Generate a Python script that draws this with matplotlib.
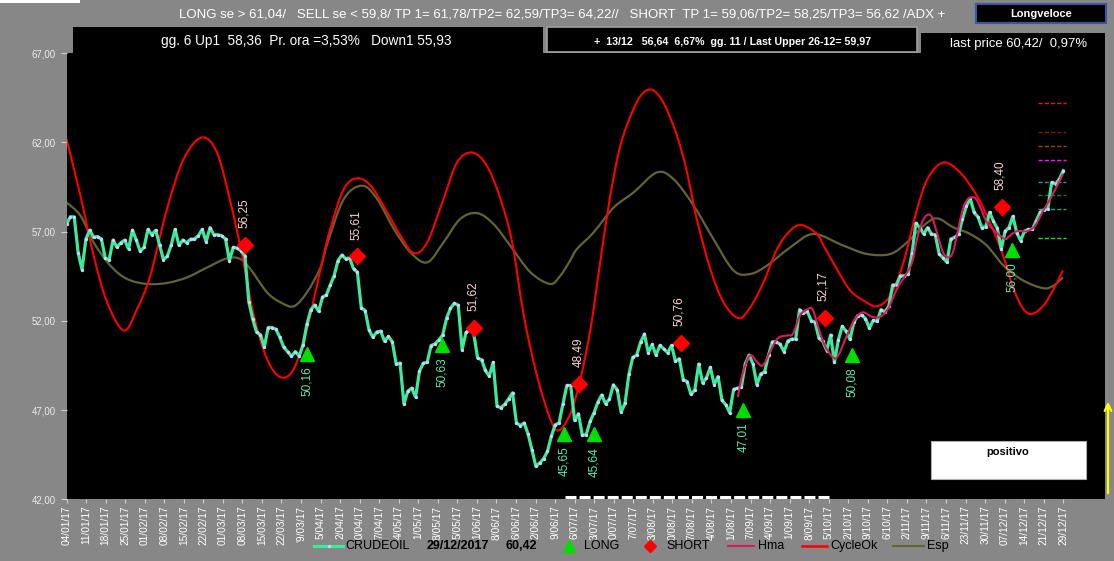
import numpy as np
import matplotlib
matplotlib.use("Agg")
import matplotlib.pyplot as plt
from matplotlib.patches import Rectangle, PathPatch
from matplotlib.lines import Line2D
from matplotlib.path import Path

plt.rcParams["font.family"] = ["Liberation Sans", "DejaVu Sans"]

W, H = 1114, 561
BG = "#878787"

# daily close, CRUDEOIL 2017
close = [
    57.43, 57.84, 57.83, 55.83, 54.87, 56.59, 57.09, 56.68, 56.73, 56.59,
    55.51, 55.43, 56.53, 56.13, 56.38, 56.53, 56.03, 57.09, 56.53, 55.90,
    56.13, 57.13, 56.83, 57.08, 56.25, 55.43, 55.63, 56.25, 57.13, 56.23,
    56.53, 56.38, 56.58, 56.59, 56.78, 57.13, 56.43, 57.23, 56.83, 56.83,
    56.78, 56.59, 55.38, 56.13, 56.08, 55.93, 55.66, 53.08, 52.11, 51.36,
    51.23, 50.53, 51.63, 51.63, 51.53, 51.08, 50.53, 50.28, 50.02, 50.28,
    50.03, 50.66, 51.83, 52.63, 52.89, 52.53, 53.33,
    53.45, 54.01, 54.53, 55.38, 55.69, 55.48, 55.53, 54.93, 54.73, 52.73,
    52.58, 51.49, 51.08, 51.38, 51.43, 50.86, 51.13, 50.83, 49.59, 49.63,
    47.35, 48.06, 48.23, 47.73, 49.18, 49.63, 49.68, 50.62, 50.71, 50.93,
    51.21, 52.15, 52.71, 52.99, 52.88, 50.39, 51.36, 51.48, 51.28, 49.91,
    49.83, 49.22, 48.90, 49.68, 47.22, 47.13, 47.33, 47.63, 47.97, 46.29,
    46.13, 46.28, 45.67, 44.78, 43.86, 44.03, 44.28, 44.68, 45.53, 46.18,
    46.28, 47.35, 48.38, 48.38,
    46.42, 46.79, 45.58, 45.63, 46.37, 46.85, 47.44, 47.85, 47.35, 47.63,
    48.42, 48.13, 46.88, 47.38, 49.00, 49.96, 50.08, 50.80, 51.27, 50.21,
    50.68, 50.08, 50.63, 50.43, 50.21, 50.63, 49.73, 49.88, 48.71, 48.60,
    47.88, 48.13, 49.59, 48.53, 48.81, 49.40, 48.43, 48.88, 47.54, 47.30,
    46.85, 48.16, 48.23, 48.28, 49.59, 50.08, 49.59, 48.42, 49.03, 49.15,
    50.08, 50.83, 50.83, 50.68, 50.28, 50.88, 50.98, 50.98, 52.63, 52.43,
    52.53, 52.02, 51.93, 51.03,
    50.85, 50.34, 51.21, 49.68, 50.93, 51.70, 51.43, 50.96, 51.92, 52.30,
    52.33, 52.13, 51.59, 52.03, 51.98, 52.63, 52.50, 52.82, 54.01, 54.03,
    54.53, 54.53, 54.63, 55.80, 57.48, 57.23, 56.87, 57.23, 56.87, 56.83,
    55.75, 55.53, 55.28, 56.59, 56.68, 56.87, 57.71, 58.43, 58.87, 58.08,
    57.83, 57.23, 57.28, 58.08, 57.58, 57.18, 56.03, 57.03, 57.23, 57.86,
    56.93, 56.50, 57.03, 57.13, 57.13, 57.61, 58.08, 58.23, 58.28, 59.76,
    59.67, 59.95, 60.42,
]

hma_idx = [173.1, 174.3, 176.2, 177.9, 179.5, 181.4, 183.4, 185.7, 187.3, 189.1,
           191.2, 192.4, 193.7, 195.5, 197.6, 198.9, 201.2, 203.3, 205.3, 207.7,
           209.7, 211.8, 214.1, 216.2, 218.0, 219.3, 220.6, 221.9, 223.1, 224.4,
           226.0, 227.3, 228.5, 229.8, 231.1, 232.4, 234.2, 235.5, 237.3, 239.9,
           242.0, 243.2, 245.1, 247.6, 249.7, 251.8, 253.6, 255.6, 256.9]
hma = [47.73, 49.03, 50.06, 49.73, 49.50, 50.28, 51.03, 51.18, 51.28, 52.30,
       52.67, 52.63, 51.73, 50.62, 49.96, 50.03, 51.18, 52.11, 52.48, 52.23,
       52.23, 52.67, 53.79, 54.53, 55.28, 56.59, 57.53, 57.93, 57.83, 56.96,
       55.83, 55.56, 55.83, 57.03, 58.27, 58.83, 58.90, 58.43, 57.53, 56.93,
       56.59, 56.78, 57.03, 57.03, 57.33, 58.17, 58.83, 59.67, 60.23]

cycle_idx = [0.0, 3.6, 7.0, 10.5, 14.8, 18.2, 21.6, 25.9, 30.2, 34.9,
             38.8, 42.3, 45.3, 48.3, 51.7, 55.2, 58.6, 62.0, 65.5, 68.0,
             71.5, 74.9, 78.4, 82.7, 86.1, 89.5, 93.0, 97.2, 100.7, 104.6,
             108.4, 111.9, 114.9, 117.9, 121.3, 124.7, 126.9, 129.9, 132.5, 135.1,
             137.6, 140.2, 142.8, 145.8, 148.4, 151.0, 153.9, 157.4, 160.0, 162.5,
             166.0, 169.4, 173.3, 176.3, 179.7, 183.2, 186.6, 189.6, 193.5, 195.2,
             198.6, 202.1, 205.5, 208.9, 212.4, 215.8, 219.3, 222.2, 226.1, 230.4,
             234.7, 238.1, 241.2, 244.2, 246.7, 248.9, 251.9, 254.5, 256.9]
cycle = [62.19, 59.02, 55.66, 53.03, 51.46, 52.67, 54.53, 58.27, 61.07, 62.28,
         61.43, 58.63, 55.66, 52.30, 49.87, 48.84, 49.31, 51.55, 54.91, 57.15,
         59.39, 59.99, 59.58, 58.08, 56.78, 55.80, 56.40, 58.83, 60.88, 61.44,
         60.69, 58.83, 56.40, 52.30, 48.93, 46.51, 45.86, 46.79, 48.75, 51.55,
         55.28, 59.02, 61.82, 63.68, 64.71, 64.95, 64.24, 62.38, 60.32, 57.71,
         54.91, 53.04, 52.15, 52.76, 54.16, 56.03, 57.06, 57.37, 56.87, 56.22,
         54.91, 53.70, 53.14, 52.82, 53.42, 55.28, 58.27, 60.04, 60.88, 60.32,
         59.02, 57.52, 55.84, 53.79, 52.67, 52.39, 52.86, 53.79, 54.82]

esp_idx = [0.0, 3.6, 7.0, 11.3, 15.6, 20.8, 26.0, 31.1, 36.3, 41.4,
           44.8, 47.4, 51.7, 55.2, 58.6, 62.0, 65.5, 67.2, 71.5, 76.2,
           80.1, 84.4, 88.7, 93.0, 97.2, 101.5, 105.9, 110.1, 114.4, 119.6,
           124.7, 127.3, 129.9, 131.6, 135.9, 141.1, 146.2, 152.2, 156.5, 161.7,
           166.8, 172.0, 176.3, 180.6, 186.6, 192.6, 200.3, 206.4, 212.4, 216.7,
           221.0, 224.4, 228.7, 233.0, 237.3, 241.6, 246.7, 251.9, 254.5, 256.9]
esp = [58.64, 57.90, 56.40, 55.10, 54.35, 54.07, 54.13, 54.44, 55.00, 55.51,
       55.47, 54.91, 53.60, 53.04, 52.82, 53.60, 55.00, 56.30, 58.83, 59.58,
       58.83, 57.15, 55.84, 55.28, 56.40, 57.71, 58.04, 57.43, 56.22, 54.73,
       54.07, 54.53, 55.40, 56.03, 56.96, 58.36, 59.20, 60.32, 59.95, 58.46,
       56.59, 54.82, 54.63, 55.10, 56.12, 56.87, 56.22, 55.75, 55.75, 56.40,
       57.34, 57.75, 57.24, 56.87, 56.22, 55.10, 54.26, 53.83, 53.98, 54.44]

long_idx = [61.9, 96.9, 128.2, 136.0, 174.5, 202.6, 243.8]
long_val = [50.16, 50.63, 45.65, 45.64, 47.01, 50.08, 56.00]
short_idx = [46.0, 75.0, 105.1, 132.2, 158.4, 195.5, 241.1]
short_val = [56.25, 55.61, 51.62, 48.49, 50.76, 52.17, 58.40]

levels = [64.22, 62.59, 61.78, 61.04, 59.80, 59.06, 58.25, 56.62]
level_colors = ["#ff1010", "#8b1010", "#b83a10", "#ff10ff",
                "#1a9aaa", "#0a8a0a", "#18a888", "#22e022"]
levels_span = [250.5, 257.7]

cycle_bar = [128.6, 197.1]
cycle_bar_level = 42.13

date_labels = [
    "04/01/17", "11/01/17", "18/01/17", "25/01/17", "01/02/17", "08/02/17",
    "15/02/17", "22/02/17", "01/03/17", "08/03/17", "15/03/17", "22/03/17",
    "'9/03/17", "5/04/17", "2/04/17", "0/04/17", "7/04/17", "4/05/17",
    "1/05/17", "8/05/17", "5/05/17", "1/06/17", "8/06/17", "6/06/17",
    "2/06/17", "9/06/17", "6/07/17", "3/07/17", "0/07/17", "7/07/17",
    "3/08/17", "0/08/17", "7/08/17", "4/08/17", "1/08/17", "7/09/17",
    "4/09/17", "1/09/17", "8/09/17", "5/10/17", "2/10/17", "9/10/17",
    "6/10/17", "2/11/17", "9/11/17", "6/11/17", "23/11/17", "30/11/17",
    "07/12/17", "14/12/17", "21/12/17", "29/12/17",
]
yticks = [42, 47, 52, 57, 62, 67]

C_CLOSE = "#3ee89c"
C_HMA = "#d81b60"
C_CYCLE = "#ff0000"
C_ESP = "#646432"


def px_rect(x0, y0, x1, y1):
    return [x0 / W, 1 - y1 / H, (x1 - x0) / W, (y1 - y0) / H]


def smooth_path(xs, ys):
    # catmull-rom through the read points, drawn as bezier segments
    p = np.column_stack([xs, ys]).astype(float)
    ext = np.vstack([p[0], p, p[-1]])
    verts, codes = [p[0]], [Path.MOVETO]
    for i in range(len(p) - 1):
        p0, p1, p2, p3 = ext[i], ext[i + 1], ext[i + 2], ext[i + 3]
        verts += [p1 + (p2 - p0) / 6, p2 - (p3 - p1) / 6, p2]
        codes += [Path.CURVE4] * 3
    return Path(verts, codes)


fig = plt.figure(figsize=(W / 100, H / 100), dpi=100, facecolor=BG)

ax = fig.add_axes(px_rect(66.5, 53.3, 1105, 499.3))
ax.set_facecolor("black")
n = len(close)
x = np.arange(n)
ax.set_xlim(0, (n - 1) + (1105 - 1063.3) / (996.6 / (n - 1)))
ax.set_ylim(42, 67)

ax.add_patch(PathPatch(smooth_path(esp_idx, esp), facecolor="none",
                       edgecolor=C_ESP, lw=1.6, zorder=2))
ax.add_patch(PathPatch(smooth_path(cycle_idx, cycle), facecolor="none",
                       edgecolor=C_CYCLE, lw=1.5, zorder=3))
ax.plot(x, close, color=C_CLOSE, lw=2.3, zorder=4,
        marker="o", markersize=2.4, markerfacecolor="#c8d4ff",
        markeredgewidth=0)
ax.add_patch(PathPatch(smooth_path(hma_idx, hma), facecolor="none",
                       edgecolor=C_HMA, lw=1.5, zorder=5))

ax.plot(long_idx, long_val, ls="none", marker="^", markersize=10,
        color="#00e000", zorder=6)
ax.plot(short_idx, short_val, ls="none", marker="D", markersize=8,
        color="#ff0000", zorder=6)
for i, v in zip(long_idx, long_val):
    ax.annotate(f"{v:.2f}".replace(".", ","), (i, v), xytext=(0, -9),
                textcoords="offset points", rotation=90, ha="center",
                va="top", color="#5cf0a8", fontsize=8.5, zorder=7)
for i, v in zip(short_idx, short_val):
    ax.annotate(f"{v:.2f}".replace(".", ","), (i, v), xytext=(-1, 12),
                textcoords="offset points", rotation=90, ha="center",
                va="bottom", color="#ffd4d4", fontsize=8.5, zorder=7)

for lv, c in zip(levels, level_colors):
    ax.hlines(lv, levels_span[0], levels_span[1], colors=c, lw=1,
              linestyles=(0, (3, 1.5)), zorder=3)
ax.hlines(cycle_bar_level, cycle_bar[0], cycle_bar[1], colors="white",
          lw=2.2, linestyles=(0, (3.6, 1.0)), zorder=3)

ax.set_yticks(yticks)
ax.set_yticklabels([f"{v:.2f}".replace(".", ",") for v in yticks],
                   color="#ececec", fontsize=6.9)
ax.set_xticks(np.linspace(0, n - 1, len(date_labels)))
ax.set_xticklabels(date_labels, rotation=90, color="white", fontsize=7.3,
                   va="top")
ax.tick_params(axis="y", length=4, color="#d0d0d0", pad=4)
ax.tick_params(axis="x", length=3, color="#d0d0d0", pad=1.5)
for s in ax.spines.values():
    s.set_visible(False)

# overlay in pixel coordinates for header, legend and notes
ov = fig.add_axes([0, 0, 1, 1], zorder=5)
ov.set_xlim(0, W)
ov.set_ylim(H, 0)
ov.axis("off")
ov.patch.set_alpha(0)

ov.add_patch(Rectangle((0, 0), 80, 3, color="white", lw=0))
ov.add_patch(Rectangle((73, 27.3), 470, 26, color="black", lw=0))
ov.add_patch(Rectangle((547, 27.3), 370, 24.4, facecolor="black",
                       edgecolor="#a0a0a0", lw=1.2))
ov.add_patch(Rectangle((921, 33), 184, 21, color="black", lw=0))
ov.add_patch(Rectangle((976, 4), 130, 19, facecolor="black",
                       edgecolor="#3656a8", lw=1.5))

renderer = fig.canvas.get_renderer()


def fit_text(t, width_px):
    bb = t.get_window_extent(renderer)
    t.set_fontsize(t.get_fontsize() * width_px / bb.width)


t = ov.text(562, 14.5, "LONG se > 61,04/   SELL se < 59,8/ TP 1= 61,78/TP2= 62,59/"
            "TP3= 64,22//   SHORT  TP 1= 59,06/TP2= 58,25/TP3= 56,62 /ADX +",
            color="white", fontsize=9, ha="center", va="center")
fit_text(t, 770)
t = ov.text(1041, 14, "Longveloce", color="white", fontsize=8,
            fontweight="bold", ha="center", va="center")
t = ov.text(306, 41, "gg. 6 Up1  58,36  Pr. ora =3,53%   Down1 55,93",
            color="white", fontsize=10, ha="center", va="center")
fit_text(t, 291)
t = ov.text(732.5, 41.5, "+  13/12   56,64  6,67%  gg. 11 / Last Upper 26-12= 59,97",
            color="white", fontsize=7, fontweight="bold", ha="center",
            va="center")
fit_text(t, 277)
t = ov.text(1019, 43.5, "last price 60,42/  0,97%", color="white",
            fontsize=10, ha="center", va="center")
fit_text(t, 138)

# positivo box and yellow arrow
ov.add_patch(Rectangle((931, 441), 155, 38, facecolor="white",
                       edgecolor="#b0b0b0", lw=0.8))
ov.text(1008, 452, "positivo", color="black", fontsize=8, fontweight="bold",
        ha="center", va="center")
ov.annotate("", xy=(1108, 399), xytext=(1108, 496),
            arrowprops=dict(arrowstyle="->", color="#ffff00", lw=1.6,
                            mutation_scale=12))

# legend
ly = 546
ov.add_line(Line2D([314, 343], [ly, ly], color=C_CLOSE, lw=2.3))
ov.plot([328.5], [ly], marker="o", markersize=2.4, color="#c8d4ff", mew=0)
ov.text(345, ly, "CRUDEOIL", fontsize=9, ha="left", va="center")
ov.text(427, ly, "29/12/2017", fontsize=9, fontweight="bold", ha="left",
        va="center")
ov.text(505, ly, "60,42", fontsize=9, fontweight="bold", ha="left",
        va="center")
ov.plot([568.5], [ly], marker="^", markersize=8, color="#00e000")
ov.text(584, ly, "LONG", fontsize=9, ha="left", va="center")
ov.plot([650], [ly], marker="D", markersize=6, color="#ff0000")
ov.text(666, ly, "SHORT", fontsize=9, ha="left", va="center")
ov.add_line(Line2D([728, 754], [ly, ly], color=C_HMA, lw=1.5))
ov.text(758, ly, "Hma", fontsize=9, ha="left", va="center")
ov.add_line(Line2D([802, 827], [ly, ly], color=C_CYCLE, lw=1.8))
ov.text(830, ly, "CycleOk", fontsize=9, ha="left", va="center")
ov.add_line(Line2D([893, 924], [ly, ly], color=C_ESP, lw=1.5))
ov.text(927, ly, "Esp", fontsize=9, ha="left", va="center")

fig.savefig("out.png", dpi=100, facecolor=BG)
